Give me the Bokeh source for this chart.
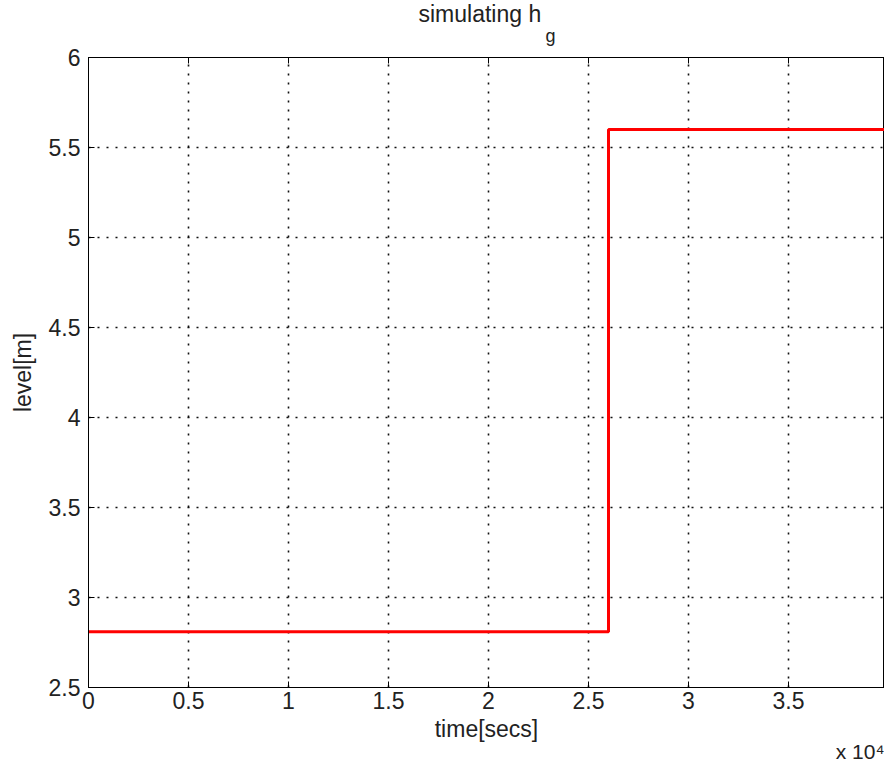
from bokeh.plotting import figure
from bokeh.models import Range1d, LinearAxis, FixedTicker, Title
from bokeh.embed import file_html
from bokeh.resources import INLINE

# Simulated level h_g over time: a single step change
time_secs = [0, 26000, 26000, 40000]
level_m = [2.81, 2.81, 5.6, 5.6]
x_ticks = [0, 0.5, 1, 1.5, 2, 2.5, 3, 3.5, 4]
y_ticks = [2.5, 3, 3.5, 4, 4.5, 5, 5.5, 6]
x_scale = 1e4

FONT = "Liberation Sans"
INK = "#222222"

p = figure(width=884, height=763, output_backend="svg", toolbar_location=None,
           x_range=Range1d(0, 3.98), y_range=Range1d(2.5, 6),
           min_border_left=88, min_border_right=0, min_border_top=57,
           min_border_bottom=76)
p.background_fill_color = "white"
p.border_fill_color = "white"
p.outline_line_color = "black"
p.outline_line_width = 1

t = [v / x_scale for v in time_secs]
p.line(t, level_m, line_color="#ff0000", line_width=3)

for ax in (p.xaxis[0], p.yaxis[0]):
    ax.major_tick_in = 6
    ax.major_tick_out = 0
    ax.minor_tick_in = 0
    ax.minor_tick_out = 0
    ax.axis_line_color = "black"
    ax.major_tick_line_color = "black"
    ax.major_label_text_font = FONT
    ax.major_label_text_font_size = "23px"
    ax.major_label_text_color = INK
    ax.axis_label_text_font = FONT
    ax.axis_label_text_font_size = "23px"
    ax.axis_label_text_font_style = "normal"
    ax.axis_label_text_color = INK

p.xaxis[0].ticker = FixedTicker(ticks=x_ticks)
p.yaxis[0].ticker = FixedTicker(ticks=y_ticks)
p.xaxis[0].axis_label = "time[secs]"
p.yaxis[0].axis_label = "level[m]"
p.xaxis[0].major_label_standoff = 4
p.yaxis[0].major_label_standoff = 8
p.xaxis[0].axis_label_standoff = 4
p.yaxis[0].axis_label_standoff = 10

top = LinearAxis(ticker=FixedTicker(ticks=x_ticks), major_tick_in=6,
                 major_tick_out=0, minor_tick_in=0, minor_tick_out=0,
                 major_label_text_font_size="0px", axis_line_color="black")
p.add_layout(top, "above")

p.xgrid.ticker = FixedTicker(ticks=x_ticks)
p.ygrid.ticker = FixedTicker(ticks=y_ticks)
for g in (p.xgrid[0], p.ygrid[0]):
    g.grid_line_color = "#111111"
    g.grid_line_dash = "2 7"
    g.grid_line_width = 1.6

# title "simulating h" with a lowered subscript g on the row below it
sub = Title(text="g", align="left", offset=457, text_font=FONT,
            text_font_size="18px", text_font_style="normal", text_color=INK,
            standoff=24)
main = Title(text="simulating h", align="left", offset=330, text_font=FONT,
             text_font_size="23px", text_font_style="normal", text_color=INK,
             standoff=-31)
p.add_layout(sub, "above")
p.add_layout(main, "above")

# exponent note for the time axis, under the right end of the axis
note = Title(text="x 10⁴", align="right", offset=0, text_font=FONT,
             text_font_size="21px", text_font_style="normal", text_color=INK,
             standoff=-14)
p.add_layout(note, "below")

open("out.html", "w").write(file_html(p, INLINE))
